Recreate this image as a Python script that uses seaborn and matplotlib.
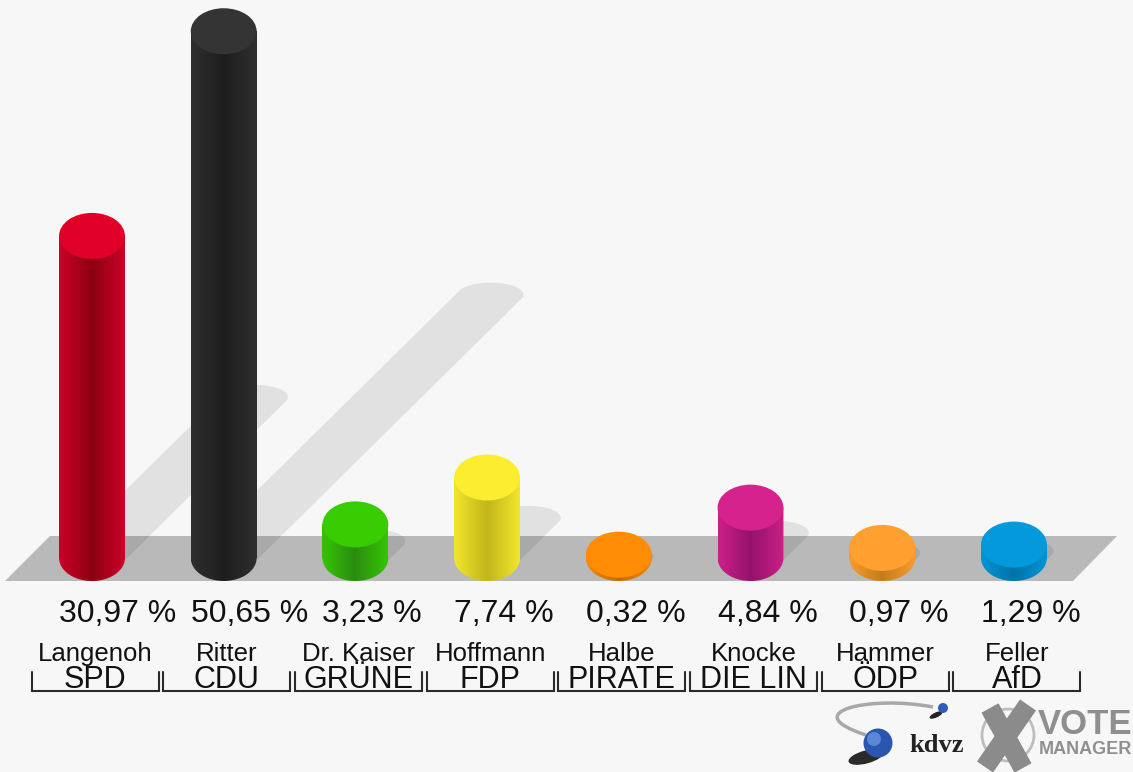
import numpy as np
import pandas as pd
import matplotlib
matplotlib.use('Agg')
import matplotlib.pyplot as plt
from matplotlib.colors import LinearSegmentedColormap
from matplotlib.patches import Ellipse, Polygon, Circle, PathPatch
from matplotlib.path import Path
import seaborn as sns

# values from the picture
parties = ['SPD', 'CDU', 'GRÜNE', 'FDP', 'PIRATE', 'DIE LIN', 'ÖDP', 'AfD']
names = ['Langenoh', 'Ritter', 'Dr. Kaiser', 'Hoffmann', 'Halbe', 'Knocke', 'Hammer', 'Feller']
shares = [30.97, 50.65, 3.23, 7.74, 0.32, 4.84, 0.97, 1.29]
share_labels = ['30,97 %', '50,65 %', '3,23 %', '7,74 %', '0,32 %', '4,84 %', '0,97 %', '1,29 %']

top_colors = ['#e00028', '#343434', '#38cc02', '#fcee2e', '#ff8c02', '#d6228c', '#ffa030', '#0399dc']
edge_colors = ['#cc0028', '#2f2f2f', '#36c404', '#f2e62e', '#f58802', '#cc1f87', '#f89c2c', '#0394d4']
core_colors = ['#8c0012', '#1e1e1e', '#2a8c10', '#c2b61a', '#c06c00', '#94126a', '#c47c1a', '#0074aa']

BG = '#f7f7f7'
INK = '#111111'
W, H = 1133, 772
PX_X = 131.7   # pixels per category
PX_Y = 10.4    # pixels per percent
X0, Y0 = 92, 558
BAR_W = 0.5
RY = 23 / PX_Y

sns.set_theme(style='white')
plt.rcParams['font.family'] = ['Liberation Sans', 'DejaVu Sans']

fig = plt.figure(figsize=(W / 100, H / 100), dpi=100, facecolor=BG)

# pixel axes for floor and logos
bg = fig.add_axes([0, 0, 1, 1], zorder=0)
bg.set_xlim(0, W)
bg.set_ylim(H, 0)
bg.axis('off')
bg.add_patch(Polygon([(50, 536), (1117, 536), (1073, 581), (5, 581)], fc='#b9b9b9', ec='none'))

ax = fig.add_axes([0, 0, 1, 1], zorder=1)
ax.patch.set_alpha(0)
df = pd.DataFrame({'party': parties, 'share': shares})
sns.barplot(data=df, x='party', y='share', hue='party', palette=edge_colors,
            width=BAR_W, dodge=False, legend=False, linewidth=0, ax=ax, zorder=3)
xlim = ((0 - X0) / PX_X, (W - X0) / PX_X)
ylim = ((Y0 - H) / PX_Y, Y0 / PX_Y)


def shadow_points(x, v):
    # ellipse swept along the shadow direction
    dx, dy = 0.04 * v, 0.5 * v
    rx, ry = BAR_W / 2, 12 / PX_Y
    pts = []
    for t in np.linspace(0, 2 * np.pi, 120):
        nx, ny = np.cos(t) / rx, np.sin(t) / ry
        k = 1 if nx * dx + ny * dy > 0 else 0
        pts.append((x + rx * np.cos(t) + k * dx, ry * np.sin(t) + k * dy))
    return pts


for i, v in enumerate(shares):
    ax.add_patch(Polygon(shadow_points(i, v), fc='black', alpha=0.085, ec='none', zorder=1))

    # cylinder body with shading
    r = BAR_W / 2
    t = np.linspace(np.pi, 2 * np.pi, 40)
    body = [(i - r, v)] + list(zip(i + r * np.cos(t), RY * np.sin(t))) + [(i + r, v)]
    clip = Polygon(body, closed=True, transform=ax.transData, fc='none', ec='none')
    ax.add_patch(clip)
    cmap = LinearSegmentedColormap.from_list(parties[i] + '_c', [edge_colors[i], core_colors[i], edge_colors[i]])
    grad = np.linspace(0, 1, 100).reshape(1, -1)
    img = ax.imshow(grad, cmap=cmap, extent=[i - r, i + r, -RY, v], aspect='auto', zorder=4)
    img.set_clip_path(clip)
    ax.add_patch(Ellipse((i, v), BAR_W, 2 * RY, fc=top_colors[i], ec='none', zorder=5))

    ax.text(i - r, (Y0 - 614) / PX_Y, share_labels[i], ha='left', va='center',
            fontsize=23, color=INK)
    ax.text(i + 0.023, (Y0 - 654) / PX_Y, names[i], ha='center', va='center',
            fontsize=18.5, color=INK)
    ax.text(i + 0.023, (Y0 - 680) / PX_Y, parties[i], ha='center', va='center',
            fontsize=22, color=INK)
    # bracket under each label
    bx = [i + 0.023 - 0.482, i + 0.023 - 0.482, i + 0.023 + 0.482, i + 0.023 + 0.482]
    by = [(Y0 - 672) / PX_Y, (Y0 - 691) / PX_Y, (Y0 - 691) / PX_Y, (Y0 - 672) / PX_Y]
    ax.plot(bx, by, color='#2a2a2a', lw=1.5, solid_joinstyle='miter', zorder=3)

ax.set_xlim(*xlim)
ax.set_ylim(*ylim)
ax.axis('off')

# kdvz logo
swoosh = Path([(933, 707), (870, 695), (795, 712), (866, 735)],
              [Path.MOVETO, Path.CURVE4, Path.CURVE4, Path.CURVE4])
bg.add_patch(PathPatch(swoosh, fc='none', ec='#a8a8a8', lw=2.5))
bg.add_patch(Ellipse((866, 757), 36, 13, angle=-15, fc='#2a2a2a', ec='none'))
bg.add_patch(Circle((878, 743), 14.5, fc='#2a56b0', ec='none'))
bg.add_patch(Circle((874, 739), 7, fc='#5d86d2', ec='none'))
bg.add_patch(Ellipse((936, 715), 14, 5, angle=-25, fc='#222222', ec='none'))
bg.add_patch(Circle((943, 708), 5, fc='#2f5db5', ec='none'))
bg.text(937, 746, 'kdvz', ha='center', va='center', fontsize=19, fontweight='bold',
        family='Liberation Serif', color='#222222')

# vote manager logo
bg.add_patch(Circle((1008, 735), 26, fc='none', ec='#bdbdbd', lw=2))
bg.plot([990, 1023], [708, 768], color='#8b8b8b', lw=14, solid_capstyle='butt')
bg.plot([1028, 985], [705, 767], color='#8b8b8b', lw=14, solid_capstyle='butt')
bg.text(1038, 725, 'VOTE', ha='left', va='center', fontsize=25, fontweight='bold', color='#8f8f8f')
bg.text(1039, 749, 'MANAGER', ha='left', va='center', fontsize=13, fontweight='bold', color='#8f8f8f')

fig.savefig('out.png', dpi=100, facecolor=BG)
